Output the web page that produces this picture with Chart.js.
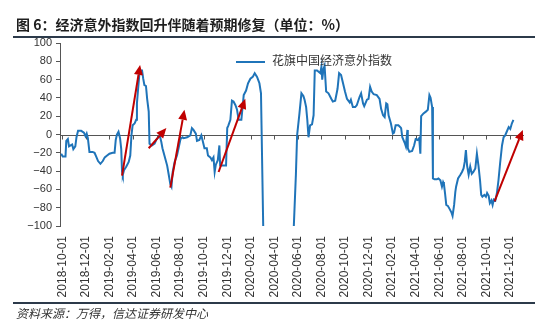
<!DOCTYPE html>
<html>
<head>
<meta charset="utf-8">
<script src="https://cdn.jsdelivr.net/npm/chart.js@4.4.0/dist/chart.umd.min.js"></script>
<style>
  body { margin: 0; background: #fff; }
  #wrap { position: relative; width: 550px; height: 324px; overflow: hidden; }
  #myChart { position: absolute; left: 0; top: 0; }
  .title { position: absolute; left: 16px; top: 15px; font: bold 14px/18px "Noto Sans CJK SC", sans-serif; color: #1e1e1e; white-space: nowrap; }
  .rule { position: absolute; left: 13px; width: 522px; background: #2c3a4a; }
  .legend { position: absolute; left: 236px; top: 51px; font: 12px/18px "Noto Sans CJK SC", sans-serif; color: #333; white-space: nowrap; }
  .legend span.swatch { display: inline-block; width: 29px; height: 2px; background: #1f74b9; vertical-align: middle; margin-right: 7px; }
  .source { position: absolute; left: 16px; top: 305px; font: italic 12px/16px "Noto Sans CJK SC", sans-serif; color: #333; white-space: nowrap; }
</style>
</head>
<body>
<div id="wrap">
  <canvas id="myChart" width="550" height="324"></canvas>
  <div class="title">图 6：经济意外指数回升伴随着预期修复（单位：%）</div>
  <div class="rule" style="top:36px;height:2px;"></div>
  <div class="legend"><span class="swatch"></span>花旗中国经济意外指数</div>
  <div class="rule" style="top:302px;height:1.5px;"></div>
  <div class="source">资料来源：万得，信达证券研发中心</div>
</div>
<script>
var tickLabels = ["2018-10-01", "2018-12-01", "2019-02-01", "2019-04-01", "2019-06-01",
    "2019-08-01", "2019-10-01", "2019-12-01", "2020-02-01", "2020-04-01", "2020-06-01",
    "2020-08-01", "2020-10-01", "2020-12-01", "2021-02-01", "2021-04-01", "2021-06-01",
    "2021-08-01", "2021-10-01", "2021-12-01"];

// Citi China economic surprise index
var dates = [
    "2018-09-28", "2018-10-02", "2018-10-09", "2018-10-11", "2018-10-15", "2018-10-18", "2018-10-22", "2018-10-26", "2018-10-29",
    "2018-11-04", "2018-11-07", "2018-11-11", "2018-11-19", "2018-11-26", "2018-11-30", "2018-12-03", "2018-12-06", "2018-12-10",
    "2018-12-18", "2018-12-23", "2018-12-27", "2019-01-02", "2019-01-08", "2019-01-14", "2019-01-19", "2019-01-25", "2019-01-31",
    "2019-02-09", "2019-02-14", "2019-02-17", "2019-02-20", "2019-02-24", "2019-02-28", "2019-03-01", "2019-03-03", "2019-03-05",
    "2019-03-08", "2019-03-14", "2019-03-20", "2019-03-24", "2019-03-27", "2019-03-30", "2019-04-05", "2019-04-09", "2019-04-11",
    "2019-04-14", "2019-04-17", "2019-04-20", "2019-04-24", "2019-04-27", "2019-04-30", "2019-05-04", "2019-05-07", "2019-05-11",
    "2019-05-13", "2019-05-19", "2019-05-26", "2019-05-30", "2019-06-05", "2019-06-09", "2019-06-13", "2019-06-16", "2019-06-21",
    "2019-06-28", "2019-07-02", "2019-07-06", "2019-07-09", "2019-07-12", "2019-07-17", "2019-07-23", "2019-07-27", "2019-08-02",
    "2019-08-07", "2019-08-10", "2019-08-19", "2019-08-27", "2019-09-01", "2019-09-05", "2019-09-11", "2019-09-14", "2019-09-20",
    "2019-09-25", "2019-09-28", "2019-10-03", "2019-10-09", "2019-10-12", "2019-10-18", "2019-10-22", "2019-10-26", "2019-10-29",
    "2019-11-02", "2019-11-07", "2019-11-11", "2019-11-13", "2019-11-22", "2019-11-28", "2019-12-01", "2019-12-04", "2019-12-09",
    "2019-12-13", "2019-12-17", "2019-12-22", "2019-12-26", "2019-12-30", "2020-01-07", "2020-01-13", "2020-01-19", "2020-01-24",
    "2020-01-30", "2020-02-06", "2020-02-11", "2020-02-17", "2020-02-23", "2020-02-27", "2020-03-05", "2020-04-01", "2020-05-15",
    "2020-05-26", "2020-05-29", "2020-06-05", "2020-06-10", "2020-06-15", "2020-06-18", "2020-06-22", "2020-06-25", "2020-06-28",
    "2020-07-02", "2020-07-07", "2020-07-11", "2020-07-14", "2020-07-20", "2020-07-28", "2020-07-31", "2020-08-03", "2020-08-06",
    "2020-08-09", "2020-08-13", "2020-08-19", "2020-08-26", "2020-08-30", "2020-09-06", "2020-09-12", "2020-09-16", "2020-09-21",
    "2020-09-26", "2020-10-01", "2020-10-06", "2020-10-13", "2020-10-16", "2020-10-21", "2020-10-27", "2020-11-01", "2020-11-08",
    "2020-11-12", "2020-11-17", "2020-11-20", "2020-11-27", "2020-12-01", "2020-12-05", "2020-12-09", "2020-12-14", "2020-12-22",
    "2020-12-29", "2021-01-03", "2021-01-08", "2021-01-12", "2021-01-16", "2021-01-19", "2021-01-22", "2021-01-28", "2021-02-03",
    "2021-02-06", "2021-02-10", "2021-02-17", "2021-02-22", "2021-02-24", "2021-02-27", "2021-03-03", "2021-03-06", "2021-03-10",
    "2021-03-11", "2021-03-15", "2021-03-22", "2021-03-27", "2021-04-01", "2021-04-06", "2021-04-10", "2021-04-13", "2021-04-15",
    "2021-04-21", "2021-04-27", "2021-05-02", "2021-05-06", "2021-05-09", "2021-05-13", "2021-05-15", "2021-05-19", "2021-05-25",
    "2021-05-29", "2021-06-04", "2021-06-08", "2021-06-11", "2021-06-13", "2021-06-16", "2021-06-19", "2021-06-23", "2021-06-27",
    "2021-07-02", "2021-07-05", "2021-07-09", "2021-07-12", "2021-07-14", "2021-07-19", "2021-07-25", "2021-07-29", "2021-08-03",
    "2021-08-06", "2021-08-09", "2021-08-12", "2021-08-16", "2021-08-20", "2021-08-24", "2021-08-28", "2021-09-03", "2021-09-07",
    "2021-09-11", "2021-09-15", "2021-09-18", "2021-09-21", "2021-09-26", "2021-09-30", "2021-10-03", "2021-10-07", "2021-10-10",
    "2021-10-14", "2021-10-17", "2021-10-20", "2021-10-24", "2021-10-28", "2021-11-02", "2021-11-06", "2021-11-11", "2021-11-15",
    "2021-11-19", "2021-11-23", "2021-11-28", "2021-12-02", "2021-12-06", "2021-12-10"
];
var surprise = [
    -21, -24, -24, -7, -5, -13, -12, -11, -16,
    -13, -3, 4, 4, 2, -2, 1, -4, -19,
    -19, -20, -24, -29, -32, -29, -25, -23, -21,
    -20, -20, -6, 0, 3, -4, -16, -40, -44,
    -39, -35, -30, -23, -1, 10, 12, 16, 34,
    50, 65, 70, 70, 61, 54, 53, 39, 25,
    -10, -12, -10, -6, -3, -1, -8, -15, -23,
    -34, -44, -54, -57, -41, -30, -23, -15, -5,
    -3, -4, -3, -1, 7, 5, 1, -7, -6,
    -1, -6, -15, -15, -23, -25, -28, -25, -41,
    -33, -28, -12, -34, -34, -34, 7, 10, 16,
    37, 36, 32, 27, 16, 16, 43, 48, 56,
    61, 63, 67, 63, 56, 45, -160, -210, -160,
    -43, -1, 23, 45, 42, 38, 30, 16, -3,
    10, 11, 21, 70, 70, 67, 74, 60, 71,
    75, 47, 45, 39, 36, 37, 50, 67, 65,
    56, 47, 39, 35, 38, 30, 30, 32, 41,
    45, 34, 31, 38, 39, 52, 47, 44, 43,
    39, 28, 21, 19, 34, 33, 21, 12, 1,
    2, 10, 10, 8, 7, -3, -9, -13, 5,
    -15, -19, -18, -12, -5, -6, -4, -21, 20,
    23, 25, 27, 43, 40, 30, -48, -49, -49,
    -48, -50, -57, -52, -54, -65, -77, -78, -81,
    -85, -89, -77, -63, -57, -48, -44, -41, -37,
    -30, -17, -34, -44, -35, -43, -41, -37, -21,
    -34, -50, -66, -68, -66, -68, -64, -67, -75,
    -72, -77, -71, -72, -64, -50, -32, -12, -3,
    -1, 3, 8, 6, 12, 16
];

// red trend arrows
var arrowFrom = ["2019-03-03", "2019-05-11", "2019-07-06", "2019-11-09", "2021-10-22"];
var arrowFromVal = [-45, -15, -58, -41, -73];
var arrowTo = ["2019-04-19", "2019-06-26", "2019-08-12", "2020-01-17", "2022-01-04"];
var arrowToVal = [76, 7, 27, 39, 5];

function toMonths(d) {
    var p = d.split("-");
    return (+p[0] - 2018) * 12 + (+p[1] - 10) + (+p[2] - 1) / 30;
}

var points = [];
for (var i = 0; i < dates.length; i++) {
    points.push({ x: toMonths(dates[i]), y: surprise[i] });
}

var zeroLine = {
    id: "zeroLine",
    beforeDatasetsDraw: function (chart) {
        var ctx = chart.ctx, area = chart.chartArea;
        var x = chart.scales.x, y = chart.scales.y;
        var y0 = Math.round(y.getPixelForValue(0)) + 0.5;
        ctx.save();
        ctx.strokeStyle = "#555";
        ctx.lineWidth = 1;
        ctx.beginPath();
        ctx.moveTo(area.left, y0);
        ctx.lineTo(area.right, y0);
        x.ticks.forEach(function (t) {
            var px = Math.round(x.getPixelForValue(t.value)) + 0.5;
            ctx.moveTo(px, y0);
            ctx.lineTo(px, y0 + 4);
        });
        ctx.stroke();
        ctx.restore();
    }
};

var arrows = {
    id: "arrows",
    afterDatasetsDraw: function (chart) {
        var ctx = chart.ctx;
        var x = chart.scales.x, y = chart.scales.y;
        ctx.save();
        ctx.strokeStyle = "#c00000";
        ctx.fillStyle = "#c00000";
        ctx.lineWidth = 2;
        for (var i = 0; i < arrowFrom.length; i++) {
            var x1 = x.getPixelForValue(toMonths(arrowFrom[i])), y1 = y.getPixelForValue(arrowFromVal[i]);
            var x2 = x.getPixelForValue(toMonths(arrowTo[i])), y2 = y.getPixelForValue(arrowToVal[i]);
            var ang = Math.atan2(y2 - y1, x2 - x1);
            var len = 10, half = 4.5;
            var bx = x2 - len * Math.cos(ang), by = y2 - len * Math.sin(ang);
            ctx.beginPath();
            ctx.moveTo(x1, y1);
            ctx.lineTo(bx, by);
            ctx.stroke();
            ctx.beginPath();
            ctx.moveTo(x2, y2);
            ctx.lineTo(bx + half * Math.sin(ang), by - half * Math.cos(ang));
            ctx.lineTo(bx - half * Math.sin(ang), by + half * Math.cos(ang));
            ctx.closePath();
            ctx.fill();
        }
        ctx.restore();
    }
};

var ctx = document.getElementById("myChart").getContext("2d");
var myChart = new Chart(ctx, {
    type: "line",
    data: {
        datasets: [{
            label: "花旗中国经济意外指数",
            data: points,
            borderColor: "#1f74b9",
            borderWidth: 2,
            pointRadius: 0,
            tension: 0,
            fill: false
        }]
    },
    options: {
        responsive: false,
        animation: false,
        layout: { padding: { top: 43, right: 26, left: 0, bottom: 0 } },
        plugins: { legend: { display: false }, tooltip: { enabled: false } },
        scales: {
            x: {
                type: "linear",
                min: -0.2,
                max: 39.2,
                afterBuildTicks: function (scale) {
                    scale.ticks = tickLabels.map(function (l) { return { value: toMonths(l) }; });
                },
                afterFit: function (scale) { scale.height = 98; },
                grid: { display: false, drawTicks: false },
                border: { display: false },
                ticks: {
                    autoSkip: false,
                    minRotation: 90,
                    maxRotation: 90,
                    padding: 10,
                    color: "#333",
                    font: { family: "'Liberation Sans', Arial, sans-serif", size: 12 },
                    callback: function (v) {
                        for (var i = 0; i < tickLabels.length; i++) {
                            if (Math.abs(toMonths(tickLabels[i]) - v) < 0.01) return tickLabels[i];
                        }
                        return "";
                    }
                }
            },
            y: {
                min: -100,
                max: 100,
                afterFit: function (scale) { scale.width = 60; },
                grid: { display: true, drawOnChartArea: false, drawTicks: true, tickLength: 4, color: "#555" },
                border: { display: true, color: "#555", width: 1 },
                ticks: {
                    stepSize: 20,
                    padding: 4,
                    color: "#333",
                    font: { family: "'Liberation Sans', Arial, sans-serif", size: 11 },
                    callback: function (v) { return v < 0 ? "\u2212" + Math.abs(v) : String(v); }
                }
            }
        }
    },
    plugins: [zeroLine, arrows]
});
</script>
</body>
</html>
